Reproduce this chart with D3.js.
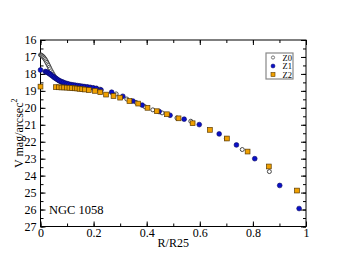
<!DOCTYPE html>
<html>
<head>
<meta charset="utf-8">
<script src="https://cdn.jsdelivr.net/npm/d3@7"></script>
<style>
  body { margin: 0; background: #fff; }
  svg text { font-family: "Liberation Serif", "DejaVu Serif", serif; fill: #000; }
</style>
</head>
<body>
<div id="chart"></div>
<script>
// Z0 : open circles
var z0R = [0, 0.003, 0.006, 0.009, 0.012, 0.015, 0.018, 0.021, 0.024, 0.027, 0.030, 0.033, 0.036, 0.040, 0.044, 0.048, 0.052, 0.057, 0.062, 0.068, 0.075, 0.082, 0.090, 0.098, 0.107, 0.116, 0.125, 0.135, 0.145, 0.155, 0.166, 0.177, 0.188, 0.200, 0.212, 0.224, 0.285, 0.325, 0.360, 0.393, 0.423, 0.458, 0.514, 0.566, 0.700, 0.760, 0.862];
var z0M = [16.88, 16.90, 16.93, 16.97, 17.02, 17.08, 17.15, 17.23, 17.32, 17.41, 17.50, 17.60, 17.70, 17.82, 17.93, 18.04, 18.14, 18.24, 18.32, 18.40, 18.46, 18.52, 18.56, 18.60, 18.63, 18.66, 18.68, 18.70, 18.72, 18.74, 18.76, 18.78, 18.80, 18.83, 18.86, 18.90, 19.18, 19.48, 19.68, 19.93, 20.12, 20.30, 20.60, 20.79, 21.81, 22.46, 23.76];

// Z1 : filled blue circles
var z1R = [0, 0.018, 0.022, 0.026, 0.030, 0.034, 0.038, 0.043, 0.048, 0.053, 0.058, 0.063, 0.068, 0.074, 0.080, 0.086, 0.093, 0.100, 0.107, 0.115, 0.123, 0.131, 0.140, 0.149, 0.158, 0.167, 0.177, 0.187, 0.198, 0.210, 0.228, 0.268, 0.310, 0.348, 0.383, 0.447, 0.488, 0.541, 0.598, 0.673, 0.738, 0.807, 0.901, 0.974];
var z1M = [17.77, 17.86, 17.88, 17.91, 17.95, 17.99, 18.04, 18.10, 18.16, 18.22, 18.27, 18.32, 18.37, 18.42, 18.46, 18.50, 18.54, 18.57, 18.60, 18.63, 18.65, 18.67, 18.69, 18.71, 18.73, 18.75, 18.77, 18.79, 18.82, 18.85, 18.95, 19.08, 19.32, 19.60, 19.84, 20.22, 20.44, 20.67, 20.99, 21.54, 22.19, 23.00, 24.58, 25.94];

// Z2 : orange squares
var z2R = [0, 0.058, 0.069, 0.079, 0.089, 0.099, 0.109, 0.119, 0.129, 0.138, 0.147, 0.157, 0.167, 0.182, 0.205, 0.225, 0.247, 0.275, 0.300, 0.335, 0.368, 0.403, 0.438, 0.476, 0.520, 0.573, 0.638, 0.702, 0.780, 0.860, 0.966];
var z2M = [18.75, 18.78, 18.79, 18.80, 18.80, 18.81, 18.82, 18.83, 18.85, 18.86, 18.88, 18.90, 18.92, 18.95, 19.00, 19.08, 19.22, 19.30, 19.40, 19.60, 19.75, 20.00, 20.20, 20.38, 20.62, 20.91, 21.30, 21.81, 22.58, 23.46, 24.88];

var xTicks = [0, 0.2, 0.4, 0.6, 0.8, 1];
var xTickLabels = ["0", "0.2", "0.4", "0.6", "0.8", "1"];
var yTicks = [16, 17, 18, 19, 20, 21, 22, 23, 24, 25, 26, 27];
var seriesNames = ["Z0", "Z1", "Z2"];

var W = 344, H = 266;
var margin = { top: 40, right: 38, bottom: 39.5, left: 40.5 },
    width = W - margin.left - margin.right,
    height = H - margin.top - margin.bottom;

var svg = d3.select('#chart').append('svg')
    .attr('width', W)
    .attr('height', H)
    .style('display', 'block');

var g = svg.append('g')
    .attr('transform', `translate(${margin.left},${margin.top})`);

var x = d3.scaleLinear().domain([0, 1]).range([0, width]);
var y = d3.scaleLinear().domain([16, 27]).range([0, height]);

var minorX = d3.range(0, 1.0001, 0.1);
var minorY = d3.range(16, 27.0001, 0.5);

// ticks on all sides, pointing inwards
function tickAxis(axisFn, scale, vals, len, tr) {
  var a = g.append('g').attr('transform', tr)
    .call(axisFn(scale).tickValues(vals).tickSize(len).tickFormat(''));
  a.select('.domain').remove();
  a.selectAll('line').attr('stroke', '#000').attr('stroke-width', 1);
  return a;
}
tickAxis(d3.axisTop, x, minorX, 3, `translate(0,${height})`);
tickAxis(d3.axisTop, x, xTicks, 5, `translate(0,${height})`);
tickAxis(d3.axisBottom, x, minorX, 3, 'translate(0,0)');
tickAxis(d3.axisBottom, x, xTicks, 5, 'translate(0,0)');
tickAxis(d3.axisRight, y, minorY, 3, 'translate(0,0)');
tickAxis(d3.axisRight, y, yTicks, 5, 'translate(0,0)');
tickAxis(d3.axisLeft, y, minorY, 3, `translate(${width},0)`);
tickAxis(d3.axisLeft, y, yTicks, 5, `translate(${width},0)`);

// tick labels
var xl = g.append('g').attr('transform', `translate(0,${height})`)
  .call(d3.axisBottom(x).tickValues(xTicks).tickSize(0).tickPadding(2)
    .tickFormat((d, i) => xTickLabels[i]));
xl.select('.domain').remove();
xl.selectAll('text').style('font-size', '12px').style('font-family', '"Liberation Serif", serif');

var yl = g.append('g')
  .call(d3.axisLeft(y).tickValues(yTicks).tickSize(0).tickPadding(4).tickFormat(d3.format('d')));
yl.select('.domain').remove();
yl.selectAll('text').style('font-size', '12px').style('font-family', '"Liberation Serif", serif');

// frame
g.append('rect')
  .attr('x', 0).attr('y', 0).attr('width', width).attr('height', height)
  .attr('fill', 'none').attr('stroke', '#000').attr('stroke-width', 1);

// axis titles
svg.append('text')
  .attr('x', margin.left + width / 2).attr('y', 247)
  .attr('text-anchor', 'middle')
  .style('font-size', '12px')
  .text('R/R25');

var yt = svg.append('text')
  .attr('transform', `translate(23,${margin.top + height / 2}) rotate(-90)`)
  .attr('text-anchor', 'middle')
  .style('font-size', '12px');
yt.append('tspan').text('V mag/arcsec');
yt.append('tspan').attr('dy', -6).style('font-size', '8px').text('2');

svg.append('text')
  .attr('x', 49).attr('y', 214)
  .style('font-size', '12.5px')
  .text('NGC 1058');

// data
var d0 = z0R.map((r, i) => ({ r: r, m: z0M[i] }));
var d1 = z1R.map((r, i) => ({ r: r, m: z1M[i] }));
var d2 = z2R.map((r, i) => ({ r: r, m: z2M[i] }));

g.selectAll('circle.z0').data(d0).enter().append('circle')
  .attr('class', 'z0')
  .attr('cx', d => x(d.r)).attr('cy', d => y(d.m)).attr('r', 2)
  .attr('fill', '#fff').attr('stroke', '#333').attr('stroke-width', 0.9);

g.selectAll('circle.z1').data(d1).enter().append('circle')
  .attr('class', 'z1')
  .attr('cx', d => x(d.r)).attr('cy', d => y(d.m)).attr('r', 2.4)
  .attr('fill', '#0a10c8').attr('stroke', '#0a0a60').attr('stroke-width', 0.6);

g.selectAll('rect.z2').data(d2).enter().append('rect')
  .attr('class', 'z2')
  .attr('x', d => x(d.r) - 2.4).attr('y', d => y(d.m) - 2.4)
  .attr('width', 4.8).attr('height', 4.8)
  .attr('fill', '#f0a000').attr('stroke', '#5a3a00').attr('stroke-width', 0.7);

// legend
var lg = svg.append('g').attr('transform', 'translate(266,53)');
lg.append('rect').attr('x', 0).attr('y', 0).attr('width', 27).attr('height', 26)
  .attr('fill', '#fff').attr('stroke', '#888').attr('stroke-width', 1.2);
seriesNames.forEach(function (name, i) {
  var cy = 4.5 + i * 8.5;
  if (i === 0) {
    lg.append('circle').attr('cx', 7).attr('cy', cy).attr('r', 1.6)
      .attr('fill', '#fff').attr('stroke', '#555').attr('stroke-width', 0.8);
  } else if (i === 1) {
    lg.append('circle').attr('cx', 7).attr('cy', cy).attr('r', 2)
      .attr('fill', '#0a10c8').attr('stroke', '#0a0a60').attr('stroke-width', 0.5);
  } else {
    lg.append('rect').attr('x', 5).attr('y', cy - 2).attr('width', 4).attr('height', 4)
      .attr('fill', '#f0a000').attr('stroke', '#5a3a00').attr('stroke-width', 0.6);
  }
  lg.append('text').attr('x', 16.5).attr('y', cy + 3)
    .style('font-size', '8.5px').text(name);
});
</script>
</body>
</html>
